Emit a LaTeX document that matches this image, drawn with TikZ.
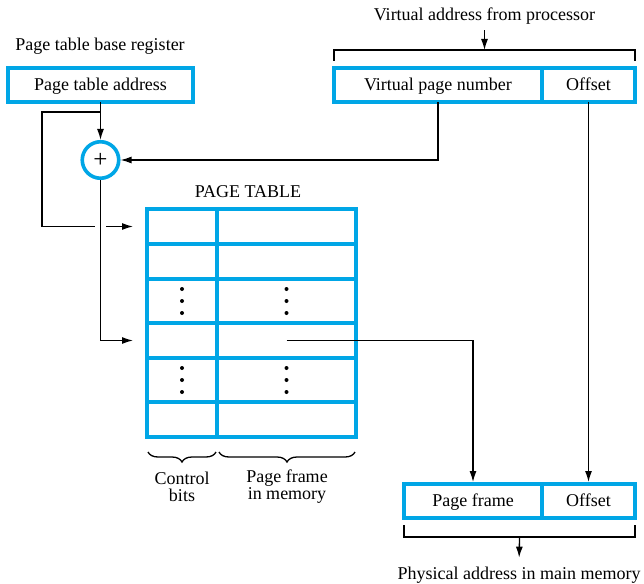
\documentclass[tikz,border=0pt]{standalone}
\usepackage{fontspec}
\setmainfont{Liberation Serif}
\usepackage{xcolor}
\usetikzlibrary{arrows.meta,positioning,calc,decorations.pathreplacing}
\definecolor{ptblue}{RGB}{0,166,230}

\begin{document}
\begin{tikzpicture}[
    x=1pt, y=-1pt,
    >={Latex[length=11pt,width=7pt]},
    box/.style={draw=ptblue, line width=3.6pt, outer sep=0pt,
                minimum height=34pt, minimum width=#1, inner sep=0pt,
                text height=13pt, text depth=1.5pt,
                font=\fontsize{18}{20}\selectfont},
    cell/.style={draw=ptblue, line width=3.6pt, outer sep=0pt, inner sep=0pt},
    lbl/.style={font=\fontsize{18}{17}\selectfont, align=center, inner sep=0pt},
    wire/.style={line width=1.3pt},
    arr/.style={->, line width=1.3pt},
    brc/.style={decorate, decoration={brace, mirror, amplitude=10pt}, line width=1.3pt},
  ]
  \useasboundingbox (0,0) rectangle (644,583);

  % Page table base register
  \node[lbl] (ptblbl) at (100,46) {Page table base register};
  \node[box=185pt] (pta) at (100.5,85) {Page table address};

  % Virtual address
  \node[lbl] (valbl) at (484.5,16) {Virtual address from processor};
  \node[box=208pt] (vpn) at (438,85) {Virtual page number};
  \node[box=93pt, right=0pt of vpn] (off) {Offset};
  \draw[wire] ($(vpn.north west)+(0,-7)$) -- ++(0,-11) -| ($(off.north east)+(0,-7)$);
  \coordinate (vatop) at ($(vpn.north west)!0.5!(off.north east)+(0,-18)$);
  \draw[arr, shorten <=6pt] (valbl.south) -- (vatop);

  % Adder
  \node[circle, draw=ptblue, line width=3.6pt, minimum size=36.5pt, inner sep=0pt,
        font=\fontsize{25}{25}\selectfont] (add) at (100.5,160) {+};

  % Page table
  \node[lbl] (ptlbl) at (248,192) {PAGE TABLE};
  \foreach \r/\top/\h in {1/209/35, 2/244/35, 3/279/44, 4/323/35, 5/358/44, 6/402/35} {
    \node[cell, minimum width=70pt, minimum height=\h pt, anchor=north west] (ctl-\r) at (147,\top) {};
    \node[cell, minimum width=139pt, minimum height=\h pt, anchor=north west] (pfm-\r) at (217,\top) {};
  }
  \foreach \r in {3,5}
    \foreach \d in {-12,0,12} {
      \fill ($(ctl-\r.center)+(0,\d)$) circle (2pt);
      \fill ($(pfm-\r.center)+(0,\d)$) circle (2pt);
    }

  % Field braces
  \draw[brc] ($(ctl-6.south west)+(1,15)$) -- ($(ctl-6.south east)+(-1,15)$);
  \draw[brc] ($(pfm-6.south west)+(2,15)$) -- ($(pfm-6.south east)+(-1,15)$);
  \node[lbl] (ctlbl) at (182,487) {Control\\bits};
  \node[lbl] (pfmlbl) at (287,487) {Page frame\\in memory};

  % Physical address
  \node[box=138pt] (paf) at (473,501) {Page frame};
  \node[box=93pt, right=0pt of paf] (paoff) {Offset};
  \draw[wire] ($(paf.south west)+(0,7)$) -- ++(0,12) -| ($(paoff.south east)+(0,7)$);
  \coordinate (pabot) at ($(paf.south west)!0.5!(paoff.south east)+(0,19)$);
  \node[lbl] (palbl) at (519,575) {Physical address in main memory};
  \draw[arr, shorten >=9pt] (pabot) -- (palbl.north);

  % Connectors
  \coordinate (tap) at ($(pta.south)+(0,10)$);
  \coordinate (hopL) at ($(ctl-1.west)+(-52,0)$);
  \coordinate (hopR) at ($(ctl-1.west)+(-41,0)$);
  \draw[arr] (pta.south) -- (add.north);
  \draw[wire] (tap) -- ++(-58.5,0) |- (hopL);
  \draw[arr, shorten >=14pt] (hopR) -- (ctl-1.west);
  \draw[arr, shorten >=14pt] (add.south) |- (ctl-4.west);
  \draw[arr] (vpn.south) |- (add.east);
  \draw[arr, shorten >=2pt] (pfm-4.center) -| (paf.north);
  \draw[arr, shorten >=2pt] (off.south) -- (paoff.north);
\end{tikzpicture}
\end{document}
